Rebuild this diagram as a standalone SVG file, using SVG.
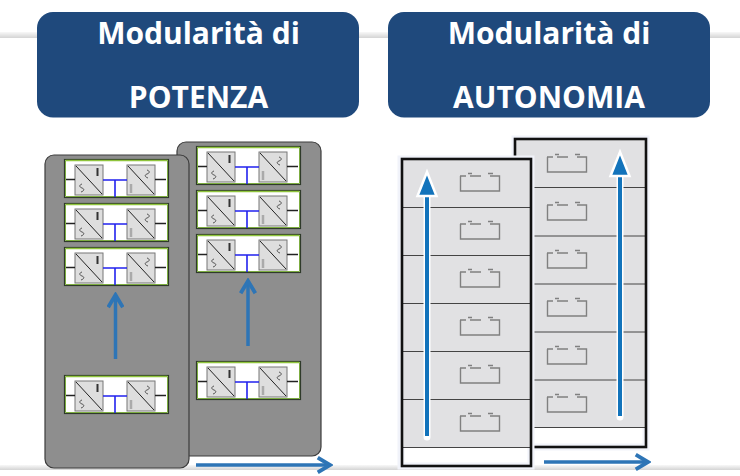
<svg xmlns="http://www.w3.org/2000/svg" width="740" height="476" viewBox="0 0 740 476">
<style>
.hd{fill:#1f497c}
.t{font-family:"Open Sans","Noto Sans",sans-serif;font-weight:700;font-size:30px;fill:#fff;text-anchor:middle}
.cab{fill:#8e8e8e;stroke:#3c3c3c;stroke-width:1.2}
.conv{fill:#dedede;stroke:#777;stroke-width:1}
.dg{stroke:#222;stroke-width:1;fill:none}
.sq{stroke:#555;stroke-width:1;fill:none}
.blk{stroke:#222;stroke-width:1.5;fill:none}
.blu{stroke:#2222ee;stroke-width:1.6;fill:none}
.arr{stroke:#2e75b6;stroke-width:3.500;fill:none}
.row{fill:#e1e1e3;stroke:none}
.sep{stroke:#444;stroke-width:1}
.frame{fill:#fff;stroke:#f1f3fa;stroke-width:7}
.fr2{fill:none;stroke:#111;stroke-width:2.600}
.bat{fill:none;stroke:#808080;stroke-width:1.400}
.up{stroke:#1273bb;stroke-width:4;fill:none}
</style>
<defs>
<linearGradient id="sh" x1="0" y1="0" x2="0" y2="1"><stop offset="0" stop-color="#f8f8f8"/><stop offset="1" stop-color="#d4d4d4"/></linearGradient>
<g id="mod">
<rect x="0.5" y="0.5" width="104" height="38" fill="#fff" stroke="#2f3a2a" stroke-width="1.2"/>
<path d="M1.5 1.500H103.500" stroke="#8fc43c" stroke-width="1.400"/>
<path d="M1.5 37.500H103.500M1.500 1.500V37.500M103.500 1.500V37.500" stroke="#6fa52c" stroke-width="0.900"/>
<rect class="conv" x="11" y="6" width="28" height="30"/>
<rect class="conv" x="63" y="6" width="28" height="30"/>
<path class="dg" d="M12 7L38 35M64 7L90 35"/>
<path class="blk" d="M2 20.500H11M91 20.500H102"/>
<path d="M33.500 9V17" stroke="#333" stroke-width="2"/>
<path d="M67 25V34" stroke="#aaa" stroke-width="2.500"/>
<path class="sq" d="M18 25c-3 1-3 3 0 4s2 3-1 4M83 11c3 1 3 3 0 4s-2 3 1 4"/>
<path class="blu" d="M39 21H63M51 21V38"/>
</g>
<g id="bat">
<path class="bat" d="M0 3H6M10 3H21M30 3H36M36 3H39.500V18H0.500V3M8 0.500H12M28 0.500H33"/>
</g>
<marker id="ah" viewBox="0 0 10 10" refX="8.500" refY="5" markerWidth="5" markerHeight="5" orient="auto" markerUnits="strokeWidth">
<path d="M1.500 0.800L8.500 5L1.500 9.200" fill="none" stroke="#2e75b6" stroke-width="2.200"/>
</marker>
</defs>
<g id="bg">
<rect x="0" y="32" width="740" height="6" fill="url(#sh)"/>
<rect x="0" y="465" width="740" height="5" fill="url(#sh)"/>
</g>
<g id="header-potenza">
<rect class="hd" x="37" y="12" width="322" height="105.500" rx="16"/>
<text class="t" x="198.500" y="44">Modularità di</text>
<text class="t" x="198.500" y="108">POTENZA</text>
</g>
<g id="header-autonomia">
<rect class="hd" x="388" y="12" width="322" height="105.500" rx="16"/>
<text class="t" x="549" y="44">Modularità di</text>
<text class="t" x="549" y="108">AUTONOMIA</text>
</g>
<g id="cabinet-right">
<rect class="cab" x="177" y="142" width="144" height="314" rx="9"/>
<use href="#mod" x="196" y="146"/>
<use href="#mod" x="196" y="190"/>
<use href="#mod" x="196" y="234"/>
<use href="#mod" x="196" y="361"/>
</g>
<g id="cabinet-left">
<rect class="cab" x="45" y="155" width="144" height="313" rx="9"/>
<use href="#mod" x="64" y="159"/>
<use href="#mod" x="64" y="203"/>
<use href="#mod" x="64" y="247"/>
<use href="#mod" x="64" y="375"/>
</g>
<g id="stack-right">
<rect class="frame" x="515" y="139" width="131" height="308"/>
<rect class="row" x="516" y="140" width="129" height="287"/>
<path class="sep" d="M516 187.500H645M516 236H645M516 284H645M516 332H645M516 380H645M516 427.500H645"/>
<rect class="fr2" x="515" y="139" width="131" height="308"/>
<use href="#bat" x="547" y="154"/>
<use href="#bat" x="547" y="202"/>
<use href="#bat" x="547" y="250"/>
<use href="#bat" x="547" y="298"/>
<use href="#bat" x="547" y="346"/>
<use href="#bat" x="547" y="394"/>
</g>
<g id="stack-left">
<rect class="frame" x="401" y="159" width="130" height="307"/>
<rect class="row" x="402" y="160" width="128" height="287"/>
<path class="sep" d="M402 207.500H530M402 255.500H530M402 303.500H530M402 351.500H530M402 399.500H530M402 447.500H530"/>
<rect class="fr2" x="402" y="159" width="129" height="307"/>
<use href="#bat" x="460" y="173"/>
<use href="#bat" x="460" y="221"/>
<use href="#bat" x="460" y="269"/>
<use href="#bat" x="460" y="317"/>
<use href="#bat" x="460" y="365"/>
<use href="#bat" x="460" y="413"/>
</g>
<g id="connectors">
<path d="M115.500 359V295" class="arr" marker-end="url(#ah)"/>
<path d="M248 346V281" class="arr" marker-end="url(#ah)"/>
<path d="M196 465H330" class="arr" marker-end="url(#ah)"/>
<path d="M544 462H648" class="arr" marker-end="url(#ah)"/>
<path d="M427 437V190" stroke="#fff" stroke-width="7" stroke-linecap="round"/>
<path d="M427 436V190" class="up"/>
<path d="M427 172L417.500 196H436.500Z" fill="#1273bb" stroke="#fff" stroke-width="2.500"/>
<path d="M620 417V170" stroke="#fff" stroke-width="7" stroke-linecap="round"/>
<path d="M620 416V170" class="up"/>
<path d="M620 152L610.500 176H629.500Z" fill="#1273bb" stroke="#fff" stroke-width="2.500"/>
</g>
</svg>
